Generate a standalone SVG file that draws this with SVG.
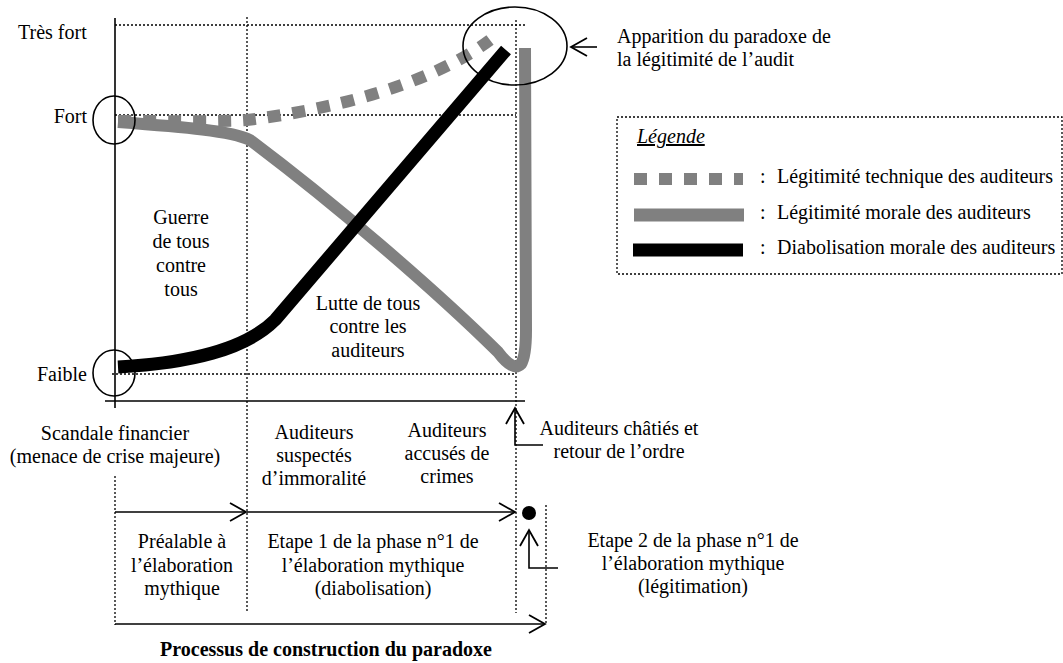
<svg xmlns="http://www.w3.org/2000/svg" width="1063" height="663" viewBox="0 0 1063 663">
<style>
text{font-family:"Liberation Serif","Times New Roman",serif;font-size:20px;fill:#000}
.c{text-anchor:middle}
.r{text-anchor:end}
.dot{fill:none;stroke:#000;stroke-width:1.3;stroke-dasharray:2 2}
.ax{fill:none;stroke:#000;stroke-width:1.6}
.ln{fill:none;stroke:#000;stroke-width:1.6}
.ring{fill:none;stroke:#000;stroke-width:1.6}
.tech{fill:none;stroke:#808080;stroke-width:12;stroke-dasharray:13 12}
.moral{fill:none;stroke:#808080;stroke-width:12}
.diab{fill:none;stroke:#000;stroke-width:13}
</style>
<defs>
<marker id="chev" markerUnits="userSpaceOnUse" markerWidth="20" markerHeight="22" viewBox="-18 -11 20 22" refX="0" refY="0" orient="auto">
<path d="M-16,-9 L0,0 L-16,9" fill="none" stroke="#000" stroke-width="1.8"/>
</marker>
</defs>
<rect width="1063" height="663" fill="#fff"/>

<g id="grid">
<line class="dot" x1="115" y1="25" x2="527" y2="25"/>
<line class="dot" x1="115" y1="115" x2="516" y2="115"/>
<line class="dot" x1="112" y1="374" x2="516" y2="374"/>
<line class="dot" x1="247" y1="17" x2="247" y2="612"/>
<line class="dot" x1="516" y1="20" x2="516" y2="613"/>
<line class="dot" x1="115" y1="476" x2="115" y2="625"/>
<line class="dot" x1="546" y1="505" x2="546" y2="625"/>
</g>

<g id="axes">
<line class="ax" x1="115" y1="18" x2="115" y2="408"/>
<line class="ax" x1="105" y1="401" x2="525" y2="401"/>
</g>

<g id="curves">
<path class="tech" d="M118,121 C180,121 220,122 247,120 C330,110 430,85 490,40"/>
<path class="moral" d="M118,122 C185,127 232,131 250,140 C330,200 430,285 498,352 Q513,372 521,364 Q526,356 526,330 L525,48"/>
<path class="diab" d="M118,367 C190,363 245,350 275,320 L506,50"/>
</g>

<g id="markers">
<ellipse id="ring-fort" class="ring" cx="114" cy="120" rx="21" ry="24"/>
<ellipse id="ring-faible" class="ring" cx="114" cy="373" rx="21" ry="23"/>
<ellipse id="ring-paradoxe" class="ring" cx="515" cy="46" rx="52" ry="39"/>
<circle id="dot-etape2" cx="529" cy="513" r="7" fill="#000"/>
</g>

<g id="connectors">
<line class="ln" x1="597" y1="47" x2="571" y2="47" marker-end="url(#chev)"/>
<line class="ln" x1="115" y1="512" x2="246" y2="512" marker-end="url(#chev)"/>
<line class="ln" x1="247" y1="512" x2="515" y2="512" marker-end="url(#chev)"/>
<line class="ln" x1="115" y1="624" x2="545" y2="624" marker-end="url(#chev)"/>
<path class="ln" d="M543,445 H515 V408" marker-end="url(#chev)"/>
<path class="ln" d="M558,568 H529 V530" marker-end="url(#chev)"/>
</g>

<g id="axis-labels">
<text x="18" y="39">Très fort</text>
<text class="r" x="87" y="123">Fort</text>
<text class="r" x="87" y="381">Faible</text>
</g>

<g id="zone-guerre">
<text class="c" x="181" y="224">Guerre</text>
<text class="c" x="181" y="248">de tous</text>
<text class="c" x="181" y="272">contre</text>
<text class="c" x="181" y="296">tous</text>
</g>

<g id="zone-lutte">
<text class="c" x="368" y="310">Lutte de tous</text>
<text class="c" x="368" y="333">contre les</text>
<text class="c" x="368" y="357">auditeurs</text>
</g>

<g id="label-paradoxe">
<text x="617" y="43">Apparition du paradoxe de</text>
<text x="617" y="66">la légitimité de l’audit</text>
</g>

<g id="legend">
<rect x="617" y="117" width="445" height="157" class="dot"/>
<text x="637" y="143" font-style="italic" text-decoration="underline">Légende</text>
<line x1="634" y1="179" x2="743" y2="179" stroke="#808080" stroke-width="12" stroke-dasharray="13 12"/>
<line x1="634" y1="215" x2="744" y2="215" stroke="#808080" stroke-width="13"/>
<line x1="633" y1="250" x2="743" y2="250" stroke="#000" stroke-width="13"/>
<text x="760" y="183">:</text>
<text x="760" y="219">:</text>
<text x="760" y="254">:</text>
<text x="777" y="183">Légitimité technique des auditeurs</text>
<text x="777" y="219">Légitimité morale des auditeurs</text>
<text x="777" y="254">Diabolisation morale des auditeurs</text>
</g>

<g id="label-scandale">
<text class="c" x="115" y="440">Scandale financier</text>
<text class="c" x="115" y="463">(menace de crise majeure)</text>
</g>

<g id="label-suspectes">
<text class="c" x="314" y="439">Auditeurs</text>
<text class="c" x="314" y="462">suspectés</text>
<text class="c" x="314" y="485">d’immoralité</text>
</g>

<g id="label-accuses">
<text class="c" x="447" y="437">Auditeurs</text>
<text class="c" x="447" y="460">accusés de</text>
<text class="c" x="447" y="483">crimes</text>
</g>

<g id="label-chaties">
<text class="c" x="619" y="435">Auditeurs châtiés et</text>
<text class="c" x="619" y="458">retour de l’ordre</text>
</g>

<g id="phase-prealable">
<text class="c" x="182" y="548">Préalable à</text>
<text class="c" x="182" y="572">l’élaboration</text>
<text class="c" x="182" y="595">mythique</text>
</g>

<g id="phase-etape1">
<text class="c" x="373" y="548">Etape 1 de la phase n°1 de</text>
<text class="c" x="373" y="572">l’élaboration mythique</text>
<text class="c" x="373" y="595">(diabolisation)</text>
</g>

<g id="phase-etape2">
<text class="c" x="693" y="547">Etape 2 de la phase n°1 de</text>
<text class="c" x="693" y="570">l’élaboration mythique</text>
<text class="c" x="693" y="593">(légitimation)</text>
</g>

<g id="title">
<text class="c" x="326" y="656" font-weight="bold">Processus de construction du paradoxe</text>
</g>
</svg>
